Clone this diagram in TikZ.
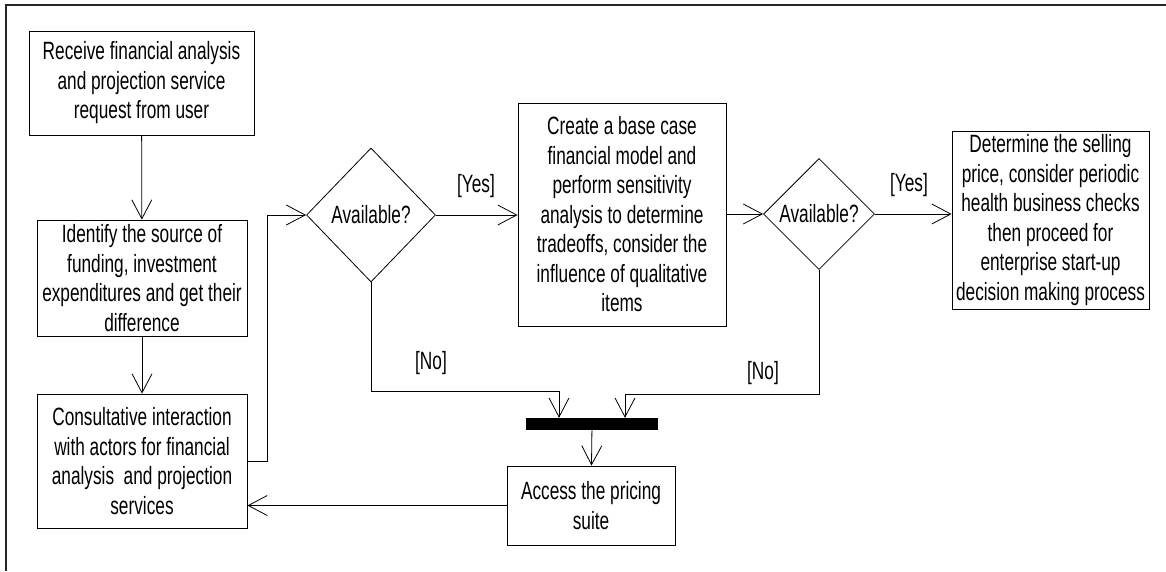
\documentclass[tikz,border=0pt]{standalone}
\usepackage{fontspec}
\setmainfont[FakeStretch=0.69]{Liberation Sans}
\usetikzlibrary{arrows.meta,shapes.geometric}
\begin{document}
\begin{tikzpicture}[x=1pt,y=-1pt,
  every node/.style={font=\fontsize{25}{29.5}\selectfont},
  actbox/.style={draw,line width=0.8pt,rectangle,inner sep=0pt,align=center},
  decision/.style={draw,line width=0.8pt,diamond,aspect=1,inner sep=0pt},
  syncbar/.style={fill=black,rectangle,inner sep=0pt,minimum width=132,minimum height=12},
  flow/.style={line width=0.8pt,-{Straight Barb[length=19pt,width=20pt,line width=0.8pt]}},
  guard/.style={inner sep=0pt}]
\useasboundingbox (0,0) rectangle (1166,571);
% frame
\draw[line width=1.6pt,color=black!85] (6,571) -- (6,5) -- (1166,5);

% activities
\node[actbox,minimum width=225,minimum height=104] (recv) at (141.5,83)
  {Receive financial analysis\\and projection service\\request from user};
\node[actbox,minimum width=210,minimum height=116] (ident) at (142,278)
  {Identify the source of\\funding, investment\\expenditures and get their\\difference};
\node[actbox,minimum width=210,minimum height=134] (consult) at (142,461)
  {Consultative interaction\\with actors for financial\\analysis\ \ and projection\\services};
\node[decision,minimum width=129,minimum height=134] (avail1) at (371,215) {Available?};
\node[actbox,minimum width=208,minimum height=223] (model) at (622,214.5)
  {Create a base case\\financial model and\\perform sensitivity\\analysis to determine\\tradeoffs, consider the\\influence of qualitative\\items};
\node[decision,minimum width=111,minimum height=111] (avail2) at (819,214) {Available?};
\node[actbox,minimum width=197,minimum height=178] (price) at (1050.5,220)
  {Determine the selling\\price, consider periodic\\health business checks\\then proceed for\\enterprise start-up\\decision making process};
\node[syncbar] (join) at (592,424) {};
\node[actbox,minimum width=168,minimum height=79] (suite) at (591,505.5)
  {Access the pricing\\suite};

% guards
\node[guard] (yes1) at (476,186) {[Yes]};
\node[guard] (yes2) at (909,185) {[Yes]};
\node[guard] (no1) at (431,363) {[No]};
\node[guard] (no2) at (763,373) {[No]};

% connectors
\draw[flow] (recv) -- (ident);
\draw[flow] (ident) -- (consult);
\draw[flow] (consult.east) -- ++(20,0) |- (avail1.west);
\draw[flow] (avail1.east) -- (model.west |- avail1.east);
\draw[flow] (model.east |- avail2.west) -- (avail2.west);
\draw[flow] (avail2.east) -- (price.west |- avail2.east);
\draw[flow] (avail1.south) -- ++(0,109) -| ([xshift=-33pt]join.north);
\draw[flow] (avail2.south) -- ++(0,124) -| ([xshift=33pt]join.north);
\draw[flow] (join) -- (suite);
\draw[flow] (suite.west) -- (suite.west -| consult.east);
\end{tikzpicture}
\end{document}
